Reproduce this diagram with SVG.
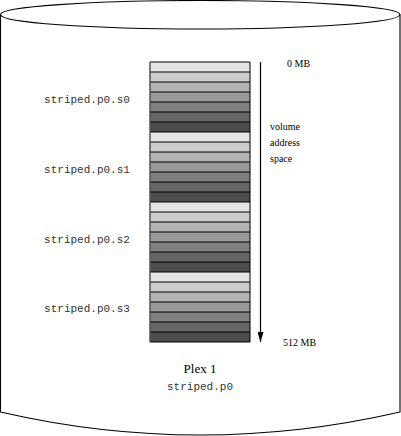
<svg xmlns="http://www.w3.org/2000/svg" width="401" height="436" viewBox="0 0 401 436">
<style>
.outline{fill:none;stroke:#000;stroke-width:1.1}
.mono{font-family:"Liberation Mono",monospace;font-size:11px;fill:#333}
.serif{font-family:"Liberation Serif",serif;font-size:10px;fill:#000}
.c0{fill:#e5e5e5}.c1{fill:#cccccc}.c2{fill:#b3b3b3}.c3{fill:#999999}.c4{fill:#808080}.c5{fill:#666666}.c6{fill:#4d4d4d}
.sep{stroke:#000;stroke-width:1}
</style>
<defs>
<g id="grp">
<rect class="c0" x="150" y="0" width="100" height="10"/>
<rect class="c1" x="150" y="10" width="100" height="10"/>
<rect class="c2" x="150" y="20" width="100" height="10"/>
<rect class="c3" x="150" y="30" width="100" height="10"/>
<rect class="c4" x="150" y="40" width="100" height="10"/>
<rect class="c5" x="150" y="50" width="100" height="10"/>
<rect class="c6" x="150" y="60" width="100" height="10"/>
</g>
<marker id="ah" markerWidth="10" markerHeight="6" refX="10" refY="3" orient="auto" markerUnits="userSpaceOnUse" viewBox="0 0 10 6">
<path d="M0,0 L10,3 L0,6 Z" fill="#000"/>
</marker>
</defs>
<g id="cylinder">
<path class="outline" d="M0.5,14.5 A199.75,14 0 0 1 400,14.5 A199.75,14.5 0 0 1 0.5,14.5 Z"/>
<path class="outline" d="M0.5,14.5 L0.5,412 Q200,458 400,412 L400,14.5"/>
</g>
<g id="stripes">
<use href="#grp" y="62"/>
<use href="#grp" y="132"/>
<use href="#grp" y="202"/>
<use href="#grp" y="272"/>
<g class="sep">
<line x1="150" y1="62" x2="250" y2="62"/>
<line x1="150" y1="72" x2="250" y2="72"/><line x1="150" y1="82" x2="250" y2="82"/><line x1="150" y1="92" x2="250" y2="92"/><line x1="150" y1="102" x2="250" y2="102"/><line x1="150" y1="112" x2="250" y2="112"/><line x1="150" y1="122" x2="250" y2="122"/><line x1="150" y1="132" x2="250" y2="132"/>
<line x1="150" y1="142" x2="250" y2="142"/><line x1="150" y1="152" x2="250" y2="152"/><line x1="150" y1="162" x2="250" y2="162"/><line x1="150" y1="172" x2="250" y2="172"/><line x1="150" y1="182" x2="250" y2="182"/><line x1="150" y1="192" x2="250" y2="192"/><line x1="150" y1="202" x2="250" y2="202"/>
<line x1="150" y1="212" x2="250" y2="212"/><line x1="150" y1="222" x2="250" y2="222"/><line x1="150" y1="232" x2="250" y2="232"/><line x1="150" y1="242" x2="250" y2="242"/><line x1="150" y1="252" x2="250" y2="252"/><line x1="150" y1="262" x2="250" y2="262"/><line x1="150" y1="272" x2="250" y2="272"/>
<line x1="150" y1="282" x2="250" y2="282"/><line x1="150" y1="292" x2="250" y2="292"/><line x1="150" y1="302" x2="250" y2="302"/><line x1="150" y1="312" x2="250" y2="312"/><line x1="150" y1="322" x2="250" y2="322"/><line x1="150" y1="332" x2="250" y2="332"/><line x1="150" y1="342" x2="250" y2="342"/>
</g>
<line x1="150" y1="62" x2="150" y2="342" stroke="#555" stroke-width="1.5"/>
<line x1="250" y1="62" x2="250" y2="342" stroke="#000" stroke-width="1"/>
</g>
<g id="connectors">
<line x1="260.5" y1="62" x2="260.5" y2="342" stroke="#000" stroke-width="1.2" marker-end="url(#ah)"/>
</g>
<g id="labels">
<text class="mono" x="87" y="103" text-anchor="middle">striped.p0.s0</text>
<text class="mono" x="87" y="173" text-anchor="middle">striped.p0.s1</text>
<text class="mono" x="87" y="243" text-anchor="middle">striped.p0.s2</text>
<text class="mono" x="87" y="312" text-anchor="middle">striped.p0.s3</text>
<text class="serif" x="287" y="67">0 MB</text>
<text class="serif" x="270" y="130">volume</text>
<text class="serif" x="270" y="146">address</text>
<text class="serif" x="270" y="162">space</text>
<text class="serif" x="283" y="346">512 MB</text>
<text class="serif" x="200" y="373" text-anchor="middle" style="font-size:13px">Plex 1</text>
<text class="mono" x="200" y="390" text-anchor="middle">striped.p0</text>
</g>
</svg>
